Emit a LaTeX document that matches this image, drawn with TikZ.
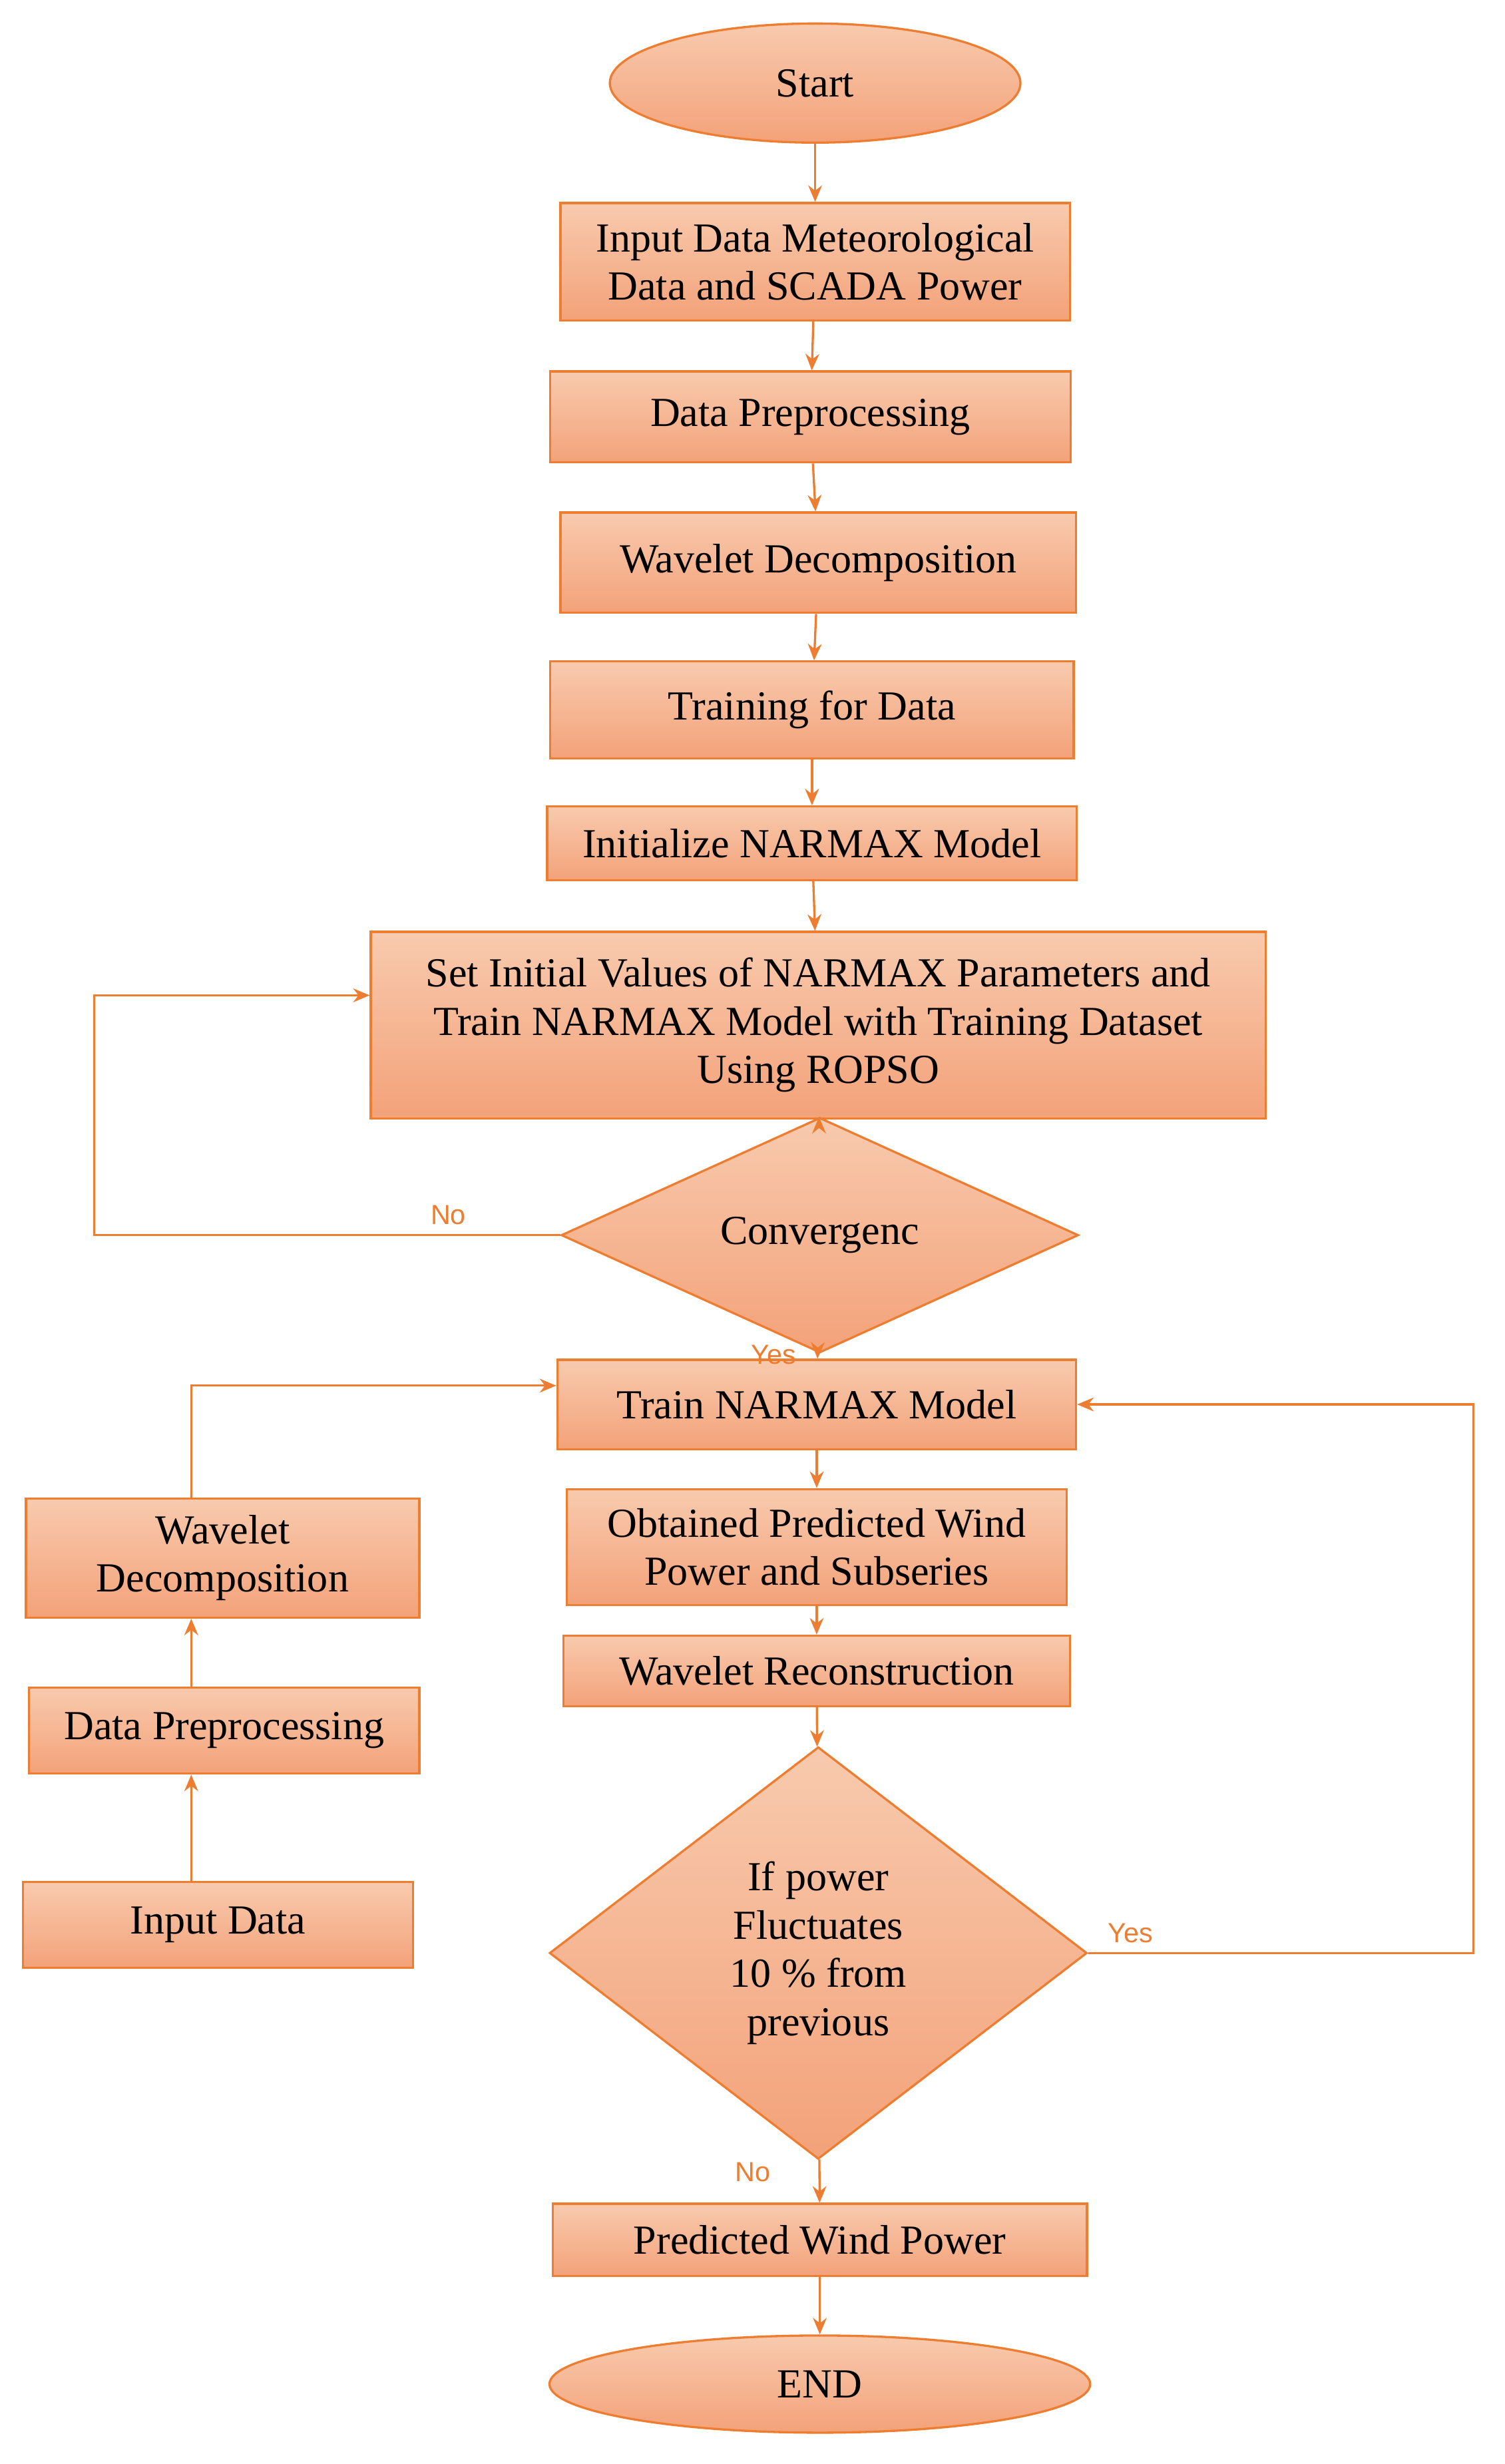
\documentclass[tikz,border=0pt]{standalone}
\usepackage{fontspec}
\setmainfont{Liberation Serif}
\newfontfamily\lblfont{Liberation Sans}
\usetikzlibrary{shapes.geometric,arrows.meta}
\definecolor{edgeor}{HTML}{ED7D31}
\definecolor{topor}{HTML}{F8CAAE}
\definecolor{botor}{HTML}{F3A279}
\begin{document}
\begin{tikzpicture}[x=0.02cm,y=-0.02cm,
box/.style={draw=edgeor,thick,top color=topor,bottom color=botor,inner sep=0,align=center,font=\fontsize{15}{17.5}\selectfont},
oval/.style={box,ellipse},
dec/.style={box,diamond,aspect=1},
link/.style={-{Stealth[length=6pt,width=5pt]},edgeor,thick},
ans/.style={font=\lblfont\fontsize{10}{12}\selectfont}]
	\useasboundingbox (0,0) rectangle (960,1572);
	\node[oval,minimum width=5.24cm,minimum height=1.52cm] at (520,53) (start) {Start};
	\node[box,minimum width=6.5cm,minimum height=1.5cm] at (520,167) (inp) {Input Data Meteorological\\Data and SCADA Power};
	\node[box,minimum width=6.64cm,minimum height=1.16cm] at (517,266) (prep) {Data Preprocessing};
	\node[box,minimum width=6.58cm,minimum height=1.28cm] at (522,359) (wdec) {Wavelet Decomposition};
	\node[box,minimum width=6.68cm,minimum height=1.24cm] at (518,453) (train) {Training for Data};
	\node[box,minimum width=6.76cm,minimum height=0.94cm] at (518,538) (init) {Initialize NARMAX Model};
	\node[box,minimum width=11.42cm,minimum height=2.38cm] at (522,654) (set) {Set Initial Values of NARMAX Parameters and\\Train NARMAX Model with Training Dataset\\Using ROPSO};
	\node[dec,minimum width=6.6cm,minimum height=2.08cm] at (523,788) (conv) {Convergenc};
	\node[box,minimum width=6.62cm,minimum height=1.14cm] at (521,896) (tnar) {Train NARMAX Model};
	\node[box,minimum width=6.38cm,minimum height=1.48cm] at (521,987) (obt) {Obtained Predicted Wind\\Power and Subseries};
	\node[box,minimum width=6.46cm,minimum height=0.9cm] at (521,1066) (wrec) {Wavelet Reconstruction};
	\node[dec,minimum width=6.86cm,minimum height=5.26cm] at (522,1246) (fluc) {If power\\Fluctuates\\10 \% from\\previous};
	\node[box,minimum width=6.82cm,minimum height=0.92cm] at (523,1429) (pred) {Predicted Wind Power};
	\node[oval,minimum width=6.9cm,minimum height=1.24cm] at (523,1521) (stop) {END};
	% left branch
	\node[box,minimum width=5.02cm,minimum height=1.52cm] at (142,994) (lwdec) {Wavelet\\Decomposition};
	\node[box,minimum width=4.98cm,minimum height=1.1cm] at (143,1104) (lprep) {Data Preprocessing};
	\node[box,minimum width=4.98cm,minimum height=1.1cm] at (139,1228) (linp) {Input Data};

	\draw[link] (start) -- (inp);
	\draw[link] (inp) -- (prep);
	\draw[link] (prep) -- (wdec);
	\draw[link] (wdec) -- (train);
	\draw[link] (train) -- (init);
	\draw[link] (init) -- (set);
	\draw[link] (set) -- (conv);
	\draw[link] (conv) -- node[ans,pos=0.3,left=4pt] {Yes} (tnar);
	\draw[link] (tnar) -- (obt);
	\draw[link] (obt) -- (wrec);
	\draw[link] (wrec) -- (fluc);
	\draw[link] (fluc) -- node[ans,pos=0.3,left=14pt] {No} (pred);
	\draw[link] (pred) -- (stop);
	%no loop
	\draw[link] (conv.west) -- node[ans,pos=0.24,above] {No} (60,788) |- (set.west |- 0,635);
	%yes loop
	\draw[link] (fluc.east) -- node[ans,pos=0.11,above] {Yes} (940,1246) |- (tnar.east);
	%left chain
	\draw[link] (linp.north -| 122,0) -- (lprep.south -| 122,0);
	\draw[link] (lprep.north -| 122,0) -- (lwdec.south -| 122,0);
	\draw[link] (lwdec.north -| 122,0) |- (tnar.west |- 0,884);
\end{tikzpicture}
\end{document}
